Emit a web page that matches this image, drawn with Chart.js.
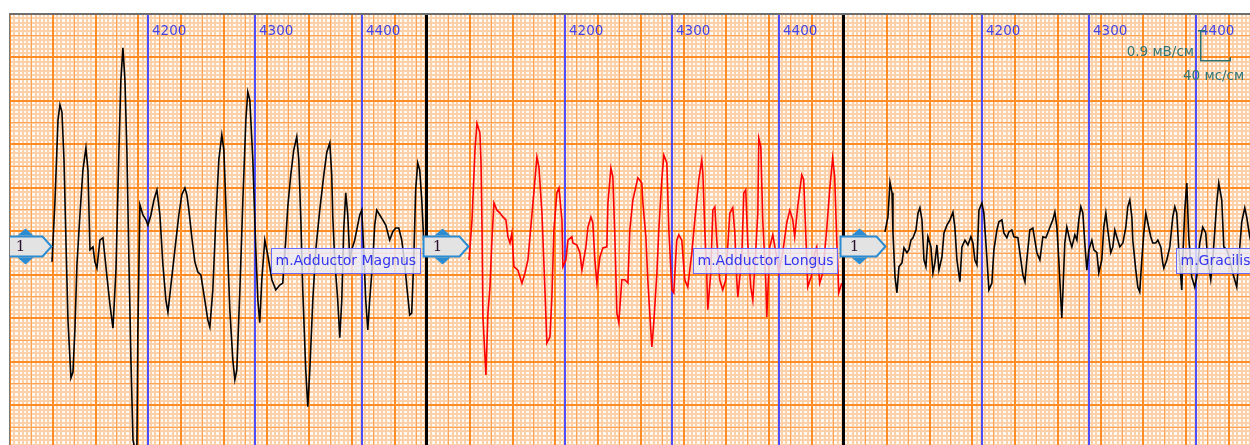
<!DOCTYPE html>
<html><head><meta charset="utf-8">
<script src="https://cdn.jsdelivr.net/npm/chart.js@4"></script>
<style>
html,body{margin:0;padding:0;background:#fff;width:1250px;height:445px;overflow:hidden;position:relative}
canvas{position:absolute}
</style></head><body>
<script>
// ---- data (time in ms, amplitude in mV) ----
const timeTicks = [4200, 4300, 4400];
const channelNames = ['m.Adductor Magnus', 'm.Adductor Longus', 'm.Gracilis'];
const channelNumbers = ['1', '1', '1'];

const magnusTime = [4110.3,4113.1,4115.9,4117.7,4119.6,4121.5,4123.3,4125.2,4128.0,4129.9,4131.7,4133.6,4136.4,4139.2,4142.0,4143.9,4145.8,4148.6,4150.4,4152.3,4155.1,4157.9,4161.7,4164.5,4167.3,4170.1,4172.9,4174.7,4176.6,4178.5,4180.3,4182.2,4184.1,4186.0,4187.8,4189.7,4190.6,4192.5,4195.3,4198.1,4200.0,4202.8,4205.6,4208.4,4211.2,4214.0,4216.8,4218.7,4221.5,4225.2,4228.9,4231.7,4234.6,4236.4,4238.3,4241.1,4243.9,4246.7,4249.5,4253.2,4256.0,4257.9,4260.7,4263.5,4266.3,4269.1,4271.0,4273.8,4276.6,4279.4,4281.3,4283.1,4286.0,4288.8,4291.6,4293.4,4295.3,4298.1,4300.9,4302.8,4304.6,4306.5,4309.3,4312.1,4315.9,4319.6,4323.3,4326.1,4328.9,4330.8,4333.6,4336.4,4339.2,4341.1,4343.0,4344.8,4347.6,4349.5,4351.4,4354.2,4357.0,4360.7,4364.5,4367.3,4370.1,4371.9,4372.9,4374.7,4377.5,4379.4,4381.3,4383.1,4385.0,4386.9,4388.8,4390.6,4393.4,4396.2,4398.1,4400.0,4401.8,4403.7,4405.6,4407.4,4410.3,4412.1,4414.0,4416.8,4419.6,4422.4,4426.1,4428.9,4431.7,4434.6,4437.4,4440.2,4442.0,4444.8,4446.7,4448.6,4450.4,4452.3,4454.2,4456.1,4457.9,4459.8];
const magnusMV = [-0.33,0.95,2.61,2.92,2.77,1.78,0.12,-1.53,-2.73,-2.61,-1.74,-0.39,0.64,1.57,2.03,1.57,-0.08,-0.02,-0.33,-0.46,0.12,0.17,-0.64,-1.22,-1.70,-0.50,1.99,3.43,4.10,3.43,1.99,-0.29,-2.36,-4.01,-4.22,-4.12,-1.74,0.85,0.64,0.54,0.43,0.64,0.95,1.16,0.64,-0.39,-1.12,-1.37,-0.81,-0.08,0.64,1.06,1.20,1.06,0.74,0.17,-0.33,-0.54,-0.60,-1.12,-1.53,-1.68,-0.91,0.54,1.78,2.30,1.99,0.33,-1.32,-2.36,-2.77,-2.57,-0.91,0.95,2.61,3.19,3.02,1.78,-0.08,-1.12,-1.59,-0.70,0.12,-0.19,-0.70,-0.91,-0.81,-0.77,0.12,0.81,1.47,1.99,2.26,1.78,0.54,-0.91,-2.57,-3.33,-2.57,-1.12,-0.08,0.74,1.47,1.94,2.13,1.47,0.60,-0.29,-1.12,-1.90,-1.12,0.33,1.10,0.64,-0.29,-0.08,0.12,0.43,0.64,0.74,-0.08,-1.12,-1.74,-1.12,-0.29,0.43,0.74,0.64,0.54,0.43,0.12,0.29,0.37,0.37,0.12,-0.39,-0.81,-1.43,-1.39,-0.29,1.16,1.72,1.57,0.95,0.12,-0.19];

const longusTime = [4110.3,4113.1,4115.9,4117.7,4120.5,4121.5,4122.4,4123.3,4126.1,4128.0,4129.9,4131.7,4133.6,4136.4,4139.2,4142.0,4144.8,4146.7,4148.6,4150.4,4152.3,4156.0,4159.8,4162.6,4165.4,4170.1,4173.8,4175.7,4178.5,4181.3,4183.1,4186.0,4187.8,4189.7,4192.5,4194.4,4197.2,4198.1,4200.9,4202.8,4206.5,4207.5,4211.2,4214.0,4215.9,4219.6,4221.5,4224.3,4226.1,4228.0,4229.9,4232.7,4235.5,4239.2,4240.2,4243.0,4244.8,4246.7,4248.6,4250.4,4253.2,4256.0,4258.9,4260.7,4263.5,4268.2,4271.9,4272.9,4275.7,4277.5,4280.3,4281.3,4283.1,4286.0,4287.8,4290.6,4292.5,4295.3,4297.2,4300.0,4301.8,4304.6,4306.5,4309.3,4312.1,4314.9,4318.7,4321.5,4325.2,4328.0,4329.0,4330.8,4332.7,4333.6,4336.4,4338.3,4340.2,4342.0,4344.8,4347.6,4350.4,4354.2,4357.0,4358.9,4360.7,4361.7,4365.4,4367.3,4369.1,4371.0,4373.8,4375.7,4378.5,4380.4,4381.3,4383.2,4385.0,4387.8,4388.8,4391.6,4394.4,4398.1,4400.0,4403.7,4407.5,4410.3,4413.1,4414.9,4417.7,4421.5,4423.3,4425.2,4427.1,4430.8,4433.6,4435.5,4438.3,4441.1,4444.8,4447.6,4450.4,4452.3,4454.2,4456.1,4458.9];
const longusMV = [-0.29,0.54,1.99,2.54,2.34,1.74,0.48,-1.47,-2.67,-1.39,-0.85,0.12,0.89,0.74,0.68,0.60,0.54,0.19,0.06,0.27,-0.43,-0.50,-0.77,-0.56,-0.29,0.89,1.84,1.63,0.68,-0.91,-2.01,-1.88,-1.06,0.33,1.10,1.20,0.54,-0.43,-0.29,0.12,0.19,0.06,0.02,-0.14,-0.50,-0.02,0.39,0.60,0.48,-0.29,-0.77,-0.23,-0.04,-0.02,0.89,1.61,1.43,0.19,-1.39,-1.59,-0.70,-0.70,-0.77,0.33,0.95,1.41,1.30,0.89,0.19,-0.70,-1.74,-2.09,-1.59,-0.56,0.33,1.37,1.88,1.72,0.33,-0.91,-0.97,0.12,0.23,0.12,-0.70,-0.85,-0.14,0.54,1.37,1.78,1.51,0.33,-0.64,-1.32,-0.56,0.74,0.81,0.12,-0.70,-0.91,-0.70,0.68,0.79,0.27,-0.70,-1.06,-0.23,1.10,1.16,0.06,-0.85,-1.12,-0.08,0.68,2.23,2.05,0.54,-0.70,-1.47,-0.02,0.23,-0.23,-0.56,-0.14,0.48,0.74,0.54,0.19,0.81,1.47,1.37,0.27,-0.85,-0.60,-0.14,-0.02,-0.77,-0.56,0.33,1.16,1.82,1.43,0.12,-0.97,-0.77];

const gracilisTime = [4109.3,4112.1,4114.0,4115.9,4116.8,4118.7,4120.5,4122.4,4125.2,4127.1,4129.9,4131.7,4133.6,4135.5,4138.3,4140.2,4142.0,4143.9,4145.8,4147.6,4149.5,4152.3,4154.2,4156.0,4157.9,4159.8,4162.6,4164.5,4167.3,4170.1,4172.9,4174.7,4176.6,4179.4,4181.3,4184.1,4186.9,4189.7,4191.6,4193.4,4195.3,4197.2,4200.0,4201.8,4204.6,4206.5,4209.3,4211.2,4214.0,4215.9,4218.7,4220.5,4223.3,4225.2,4228.0,4229.9,4233.6,4236.4,4238.3,4240.2,4242.0,4244.8,4247.6,4249.5,4251.4,4254.2,4257.0,4259.8,4262.6,4266.3,4268.2,4270.1,4271.9,4273.8,4274.7,4275.7,4277.5,4279.4,4282.2,4284.1,4286.9,4288.8,4290.6,4292.5,4294.4,4296.2,4298.1,4300.0,4302.8,4304.7,4307.5,4309.3,4312.1,4314.0,4315.9,4317.7,4320.5,4322.4,4324.3,4326.1,4329.0,4331.8,4334.6,4336.4,4338.3,4340.2,4341.1,4343.9,4345.8,4347.6,4349.5,4351.4,4353.3,4355.1,4357.9,4359.8,4362.6,4364.5,4367.3,4369.1,4370.1,4372.9,4375.7,4378.5,4380.4,4382.2,4384.1,4386.9,4387.8,4389.7,4391.6,4393.4,4396.2,4399.0,4400.9,4403.7,4406.5,4409.3,4411.2,4414.0,4415.9,4419.6,4421.5,4424.3,4426.2,4429.0,4431.8,4434.6,4438.3,4440.2,4443.0,4445.8,4447.6,4450.5,4453.3,4456.1,4458.9];
const gracilisMV = [0.29,0.60,1.32,1.10,0.27,-0.64,-0.97,-0.43,-0.35,-0.04,-0.14,-0.08,0.12,0.17,0.33,0.68,0.79,0.54,-0.29,-0.43,0.19,-0.02,-0.56,-0.35,0.02,-0.50,-0.23,0.27,0.43,0.54,0.70,0.39,-0.29,-0.74,-0.02,0.12,0.02,0.19,0.06,-0.29,-0.39,0.74,0.89,0.68,-0.23,-0.91,-0.77,-0.08,0.33,0.50,0.54,0.27,0.17,0.29,0.33,0.19,0.17,-0.29,-0.60,-0.74,-0.29,0.33,0.37,0.12,-0.14,-0.29,0.19,0.17,0.33,0.54,0.70,0.39,-0.29,-1.12,-1.49,-0.97,0.06,0.39,0.12,-0.02,0.23,0.12,0.54,0.81,0.68,0.06,-0.50,-0.08,0.12,-0.08,-0.14,-0.56,-0.29,0.39,0.68,0.33,-0.14,-0.02,0.33,0.19,-0.02,0.06,0.39,0.81,0.95,0.60,0.12,-0.50,-0.85,-0.95,-0.29,0.27,0.68,0.48,0.19,0.06,0.06,0.12,-0.02,-0.35,-0.46,-0.29,-0.02,0.60,0.81,0.68,-0.08,-0.91,-0.29,0.74,1.30,0.19,-0.64,-0.85,-0.64,0.06,0.39,0.27,-0.29,-0.70,-0.29,0.89,1.30,0.95,-0.02,-0.08,-0.29,-0.56,-0.85,-0.29,0.50,0.79,0.60,0.19,-0.08,0.12,0.23];

// ---- scale / paper settings ----
const X_MIN = 4071, X_MAX = 4461, Y_MIN = -4.12, Y_MAX = 4.8;
const MS_MINOR = 4, MS_MID = 20, MS_MAJOR = 40;
const MV_MINOR = 0.09, MV_MID = 0.45, MV_MAJOR = 0.9;
const PANEL_LEFTS = [10, 427, 844];
const PANEL_W = 417, PAD = 6, CANVAS_TOP = 13, CANVAS_H = 432;

const series = [
  {t: magnusTime, v: magnusMV, color: '#000000'},
  {t: longusTime, v: longusMV, color: '#ff0000'},
  {t: gracilisTime, v: gracilisMV, color: '#000000'}
];

const FONT = '"DejaVu Sans", Verdana, sans-serif';

const paperPlugin = {
  id: 'paper',
  beforeDatasetsDraw(chart, args, opts) {
    const {ctx, chartArea: a, scales: {x, y}} = chart;
    ctx.save();
    ctx.beginPath(); ctx.rect(a.left, a.top, a.right - a.left, a.bottom - a.top); ctx.clip();
    ctx.fillStyle = '#fffaf4';
    ctx.fillRect(a.left, a.top, a.right - a.left, a.bottom - a.top);
    const lines = (stepT, stepV, w, color) => {
      ctx.fillStyle = color;
      for (let k = 0; X_MIN + k * stepT <= X_MAX + 0.01; k++) {
        const px = x.getPixelForValue(X_MIN + k * stepT);
        ctx.fillRect(Math.round(px - w / 2), a.top, w, a.bottom - a.top);
      }
      for (let k = 0; Y_MAX - k * stepV >= Y_MIN - 0.01; k++) {
        const py = y.getPixelForValue(Y_MAX - k * stepV);
        ctx.fillRect(a.left, Math.round(py - w / 2), a.right - a.left, w);
      }
    };
    lines(MS_MINOR, MV_MINOR, 2, '#fcd0a8');
    lines(MS_MID, MV_MID, 1, '#ffa555');
    lines(MS_MAJOR, MV_MAJOR, 2, '#ff8c24');
    ctx.font = '13.5px ' + FONT;
    ctx.textBaseline = 'middle';
    ctx.textAlign = 'left';
    timeTicks.forEach(t => {
      const px = Math.round(x.getPixelForValue(t));
      ctx.fillStyle = '#4d4dff';
      ctx.fillRect(px - 1, a.top, 2, a.bottom - a.top);
      ctx.fillStyle = '#4444e6';
      ctx.fillText(String(t), px + 4, a.top + 17);
    });
    ctx.restore();
  },
  afterDatasetsDraw(chart, args, opts) {
    const {ctx, chartArea: a, scales: {x, y}} = chart;
    const idx = opts.idx;
    const zero = Math.round(y.getPixelForValue(0));
    ctx.save();
    if (idx > 0) {
      ctx.fillStyle = '#000';
      ctx.fillRect(a.left - 2, a.top, 3, a.bottom - a.top);
    } else {
      ctx.fillStyle = '#7a7a7a';
      ctx.fillRect(a.left - 1, a.top - 1, 1, a.bottom - a.top + 1);
    }
    ctx.fillStyle = '#6e6e6e';
    ctx.fillRect(idx === 0 ? a.left - 1 : a.left - PAD, a.top - 1, a.right - a.left + PAD + 1, 2);

    // channel marker
    ctx.save();
    if (idx === 0) { ctx.beginPath(); ctx.rect(a.left, a.top, a.right - a.left, a.bottom - a.top); ctx.clip(); }
    const tip = a.left + 41.5, cy = zero + 0.5;
    const bl = tip - 45, br = tip - 9, bt = cy - 10, bb = cy + 10;
    ctx.beginPath();
    ctx.moveTo(bl, bt); ctx.lineTo(br, bt); ctx.lineTo(tip, cy); ctx.lineTo(br, bb); ctx.lineTo(bl, bb); ctx.closePath();
    ctx.fillStyle = '#e3e3e3'; ctx.fill();
    ctx.lineWidth = 2; ctx.strokeStyle = '#2b8cd2'; ctx.stroke();
    const tx = tip - 26;
    ctx.fillStyle = '#2b8cd2';
    ctx.beginPath(); ctx.moveTo(tx - 8, bt - 1); ctx.lineTo(tx, bt - 8); ctx.lineTo(tx + 8, bt - 1); ctx.closePath(); ctx.fill();
    ctx.beginPath(); ctx.moveTo(tx - 8, bb + 1); ctx.lineTo(tx, bb + 8); ctx.lineTo(tx + 8, bb + 1); ctx.closePath(); ctx.fill();
    ctx.fillStyle = '#2a1030';
    ctx.font = '15px "DejaVu Serif", serif';
    ctx.textAlign = 'center'; ctx.textBaseline = 'middle';
    ctx.fillText(channelNumbers[idx], tip - 31, cy + 1);
    ctx.restore();

    // channel name label
    ctx.font = '14px ' + FONT;
    const name = channelNames[idx];
    const w = Math.round(ctx.measureText(name).width) + 9;
    const right = a.right - 6;
    const lx = right - w, ly = zero + 2, lh = 26;
    ctx.fillStyle = 'rgba(234,235,250,0.82)';
    ctx.fillRect(lx, ly, w, lh);
    ctx.strokeStyle = '#6b6bff'; ctx.lineWidth = 1;
    ctx.strokeRect(lx + 0.5, ly + 0.5, w - 1, lh - 1);
    ctx.fillStyle = '#3434f0';
    ctx.textAlign = 'left'; ctx.textBaseline = 'middle';
    ctx.fillText(name, lx + 4.5, ly + lh / 2 + 0.5);

    // calibration legend
    if (idx === 2) {
      const ox = a.left, oy = a.top - 14;
      ctx.fillStyle = '#2c7272';
      ctx.fillRect(ox + 356, oy + 30, 1.5, 31);
      ctx.fillRect(ox + 354, oy + 30, 8, 1.5);
      ctx.fillRect(ox + 356, oy + 60, 31, 1.5);
      ctx.fillRect(ox + 385.5, oy + 57, 1.5, 4);
      ctx.font = '13.5px ' + FONT;
      ctx.fillStyle = '#2f7676';
      ctx.textAlign = 'right'; ctx.textBaseline = 'middle';
      ctx.fillText('0.9 мВ/см', ox + 350, oy + 52);
      ctx.textAlign = 'left';
      ctx.fillText('40 мс/см', ox + 339, oy + 76);
    }
    ctx.restore();
  }
};

series.forEach((s, i) => {
  const cv = document.createElement('canvas');
  cv.width = PANEL_W + PAD; cv.height = CANVAS_H;
  cv.style.left = (PANEL_LEFTS[i] - PAD) + 'px';
  cv.style.top = CANVAS_TOP + 'px';
  cv.style.width = (PANEL_W + PAD) + 'px';
  cv.style.height = CANVAS_H + 'px';
  document.body.appendChild(cv);
  new Chart(cv.getContext('2d'), {
    type: 'line',
    data: {
      datasets: [{
        data: s.t.map((t, k) => ({x: t, y: s.v[k]})),
        borderColor: s.color,
        borderWidth: 1.6,
        pointRadius: 0,
        tension: 0,
        fill: false
      }]
    },
    options: {
      responsive: false,
      maintainAspectRatio: false,
      animation: false,
      devicePixelRatio: 1,
      layout: {padding: {left: PAD, top: 1, right: 0, bottom: 0}},
      scales: {
        x: {type: 'linear', min: X_MIN, max: X_MAX, display: false},
        y: {type: 'linear', min: Y_MIN, max: Y_MAX, display: false}
      },
      plugins: {legend: {display: false}, tooltip: {enabled: false}, paper: {idx: i}}
    },
    plugins: [paperPlugin]
  });
});
</script>
</body></html>
